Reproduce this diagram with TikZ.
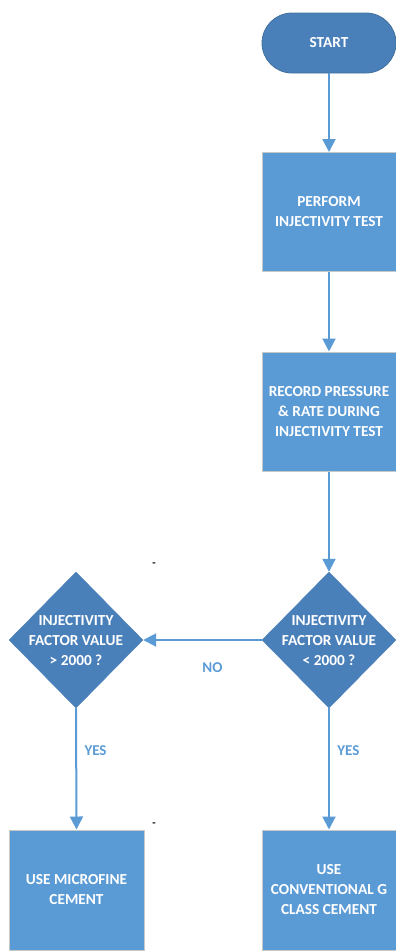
\documentclass[tikz,border=0pt]{standalone}
\usepackage{fontspec}
\setmainfont{Carlito}
\usetikzlibrary{shapes.geometric,arrows.meta}
\definecolor{darkblue}{HTML}{4A80BA}
\definecolor{lightblue}{HTML}{5B9BD5}
\definecolor{termborder}{HTML}{41719C}
\definecolor{boxborder}{HTML}{C8C8C8}
\tikzset{
  x=1pt, y=-1pt,
  lbl/.style={font=\bfseries\fontsize{15.3}{20}\selectfont, text=white, align=center},
  term/.style={draw=termborder, line width=0.8pt, fill=darkblue, rectangle, rounded corners=30pt,
    minimum width=134pt, minimum height=60pt, inner sep=0pt, lbl},
  procbox/.style={draw=boxborder, line width=1pt, fill=lightblue, rectangle,
    minimum width=134pt, minimum height=119pt, inner sep=0pt, lbl},
  dia/.style={diamond, draw=darkblue, fill=darkblue, minimum width=134pt, minimum height=136pt, inner sep=0pt},
  conn/.style={draw=lightblue, line width=2pt, -{Triangle[length=13pt,width=13pt]}},
  edgelbl/.style={font=\bfseries\fontsize{15}{18}\selectfont, text=lightblue},
  tick/.style={font=\bfseries\fontsize{11}{11}\selectfont, text=black, inner sep=0pt}
}
\begin{document}
\begin{tikzpicture}
\useasboundingbox (0,0) rectangle (396,951);
\node[term] (start) at (329,43) {START};
\node[procbox] (perform) at (329,212) {PERFORM\\INJECTIVITY TEST};
\node[procbox] (record) at (329,411.5) {RECORD PRESSURE\\\& RATE DURING\\INJECTIVITY TEST};
\node[dia] (dright) at (329,640) {};
\node[lbl] (drighttext) at (329,641) {INJECTIVITY\\FACTOR VALUE\\< 2000 ?};
\node[dia] (dleft) at (76,640) {};
\node[lbl] (dlefttext) at (76,641) {INJECTIVITY\\FACTOR VALUE\\> 2000 ?};
\node[procbox, minimum width=135pt, minimum height=120pt] (micro) at (76.5,890) {USE MICROFINE\\CEMENT};
\node[procbox, minimum width=134pt, minimum height=120pt] (conv) at (329,890) {USE\\CONVENTIONAL G\\CLASS CEMENT};
\draw[conn] (start.south) -- (perform.north);
\draw[conn] (perform.south) -- (record.north);
\draw[conn] (record.south) -- (dright.north);
\draw[conn] (dright.west) -- node[edgelbl, below=18pt, xshift=10pt] (no) {NO} (dleft.east);
\draw[conn] (dleft.south) -- node[edgelbl, pos=0.35, right=4pt] (yes1) {YES} (micro.north);
\draw[conn] (dright.south) -- node[edgelbl, pos=0.35, right=4pt] (yes2) {YES} (conv.north);
\node[tick] (tick1) at (154,565) {-};
\node[tick] (tick2) at (154,825) {-};
\end{tikzpicture}
\end{document}
